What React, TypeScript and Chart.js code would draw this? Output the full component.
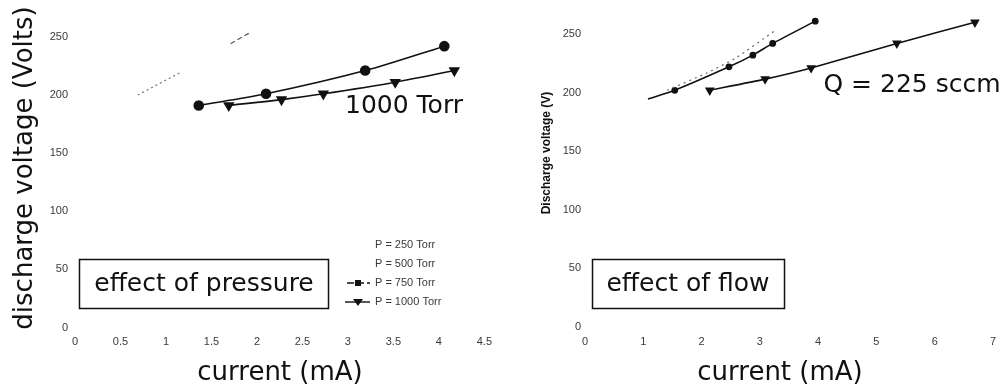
import React, { useEffect, useRef } from "react";
import { Chart, registerables } from "chart.js";

Chart.register(...registerables);

// ---------- Left panel: effect of pressure ----------
const pressureTicksX = [0, 0.5, 1, 1.5, 2, 2.5, 3, 3.5, 4, 4.5];
const voltageTicks = [0, 50, 100, 150, 200, 250];

const p250Current = [0.69, 1.15];
const p250Voltage = [200, 219];
const p500Current = [1.71, 1.91];
const p500Voltage = [244, 253];
const p750Current = [1.36, 2.1, 3.19, 4.06];
const p750Voltage = [191, 201, 221, 242];
const p1000Current = [1.69, 2.27, 2.73, 3.52, 4.17];
const p1000Voltage = [191, 196, 201, 211, 221];

const pressureLegend = ["P = 250 Torr", "P = 500 Torr", "P = 750 Torr", "P = 1000 Torr"];

// ---------- Right panel: effect of flow ----------
const flowTicksX = [0, 1, 2, 3, 4, 5, 6, 7];

const flowDottedCurrent = [1.41, 2.1, 2.6, 3.26];
const flowDottedVoltage = [202, 217, 230, 253];
const flowCircleCurrent = [1.08, 1.54, 2.47, 2.88, 3.22, 3.95];
const flowCircleVoltage = [194.5, 202, 222, 232, 242, 261];
const flowCircleRadius = [0, 2.6, 2.6, 2.6, 2.6, 2.6];
const flowTriCurrent = [2.14, 3.09, 3.88, 5.35, 6.69];
const flowTriVoltage = [202, 211.5, 221, 242, 260];

const zip = (xs: number[], ys: number[]) => xs.map((x, i) => ({ x, y: ys[i] }));

const BIG = '"DejaVu Sans", Verdana, sans-serif';
const SMALL = '"Liberation Sans", Arial, sans-serif';
const TICK_COLOR = "#3a3a3a";
const Y_MAX = 270;

function baseScales(xTicks: number[], xMax: number, yPad: number, yWidth: number, xHeight: number, tickSize: number) {
  return {
    x: {
      type: "linear",
      min: 0,
      max: xMax,
      grid: { display: false, drawTicks: false, tickLength: 0 },
      border: { display: false },
      ticks: {
        padding: 8,
        color: TICK_COLOR,
        font: { family: SMALL, size: tickSize },
        maxRotation: 0,
        autoSkip: false,
        callback: (v: any) => String(v),
      },
      afterBuildTicks: (s: any) => {
        s.ticks = xTicks.map((v) => ({ value: v }));
      },
      afterFit: (s: any) => {
        s.height = xHeight;
      },
    },
    y: {
      type: "linear",
      min: 0,
      max: Y_MAX,
      grid: { display: false, drawTicks: false, tickLength: 0 },
      border: { display: false },
      ticks: { padding: yPad, color: TICK_COLOR, font: { family: SMALL, size: tickSize }, callback: (v: any) => String(v) },
      afterBuildTicks: (s: any) => {
        s.ticks = voltageTicks.map((v) => ({ value: v }));
      },
      afterFit: (s: any) => {
        s.width = yWidth;
      },
    },
  };
}

const leftPlugin = {
  id: "leftAnnot",
  afterDraw(chart: any) {
    const ctx = chart.ctx as CanvasRenderingContext2D;
    ctx.save();
    ctx.fillStyle = "#111";
    ctx.strokeStyle = "#111";
    // y title
    ctx.save();
    ctx.translate(25, 168);
    ctx.rotate(-Math.PI / 2);
    ctx.font = `26px ${BIG}`;
    ctx.textAlign = "center";
    ctx.textBaseline = "middle";
    ctx.fillText("discharge voltage (Volts)", 0, 0);
    ctx.restore();
    // x title
    ctx.font = `26px ${BIG}`;
    ctx.textAlign = "center";
    ctx.textBaseline = "middle";
    ctx.fillText("current (mA)", 280, 373);
    // box
    ctx.lineWidth = 1.5;
    ctx.strokeRect(79.5, 259.5, 249, 49);
    ctx.font = `25px ${BIG}`;
    ctx.fillText("effect of pressure", 204, 284);
    ctx.fillText("1000 Torr", 404, 106);
    // legend
    const rows = [245, 264, 283, 302];
    ctx.font = `11px ${SMALL}`;
    ctx.textAlign = "left";
    ctx.fillStyle = TICK_COLOR;
    pressureLegend.forEach((t, i) => ctx.fillText(t, 375, rows[i]));
    ctx.fillStyle = "#111";
    ctx.lineWidth = 1.4;
    // 750 symbol
    ctx.setLineDash([7, 3]);
    ctx.beginPath();
    ctx.moveTo(347, rows[2]);
    ctx.lineTo(370, rows[2]);
    ctx.stroke();
    ctx.setLineDash([]);
    ctx.fillRect(355, rows[2] - 3, 6, 6);
    // 1000 symbol
    ctx.beginPath();
    ctx.moveTo(345, rows[3]);
    ctx.lineTo(370, rows[3]);
    ctx.stroke();
    ctx.beginPath();
    ctx.moveTo(353, rows[3] - 3);
    ctx.lineTo(363, rows[3] - 3);
    ctx.lineTo(358, rows[3] + 4);
    ctx.closePath();
    ctx.fill();
    ctx.restore();
  },
};

const rightPlugin = {
  id: "rightAnnot",
  afterDraw(chart: any) {
    const ctx = chart.ctx as CanvasRenderingContext2D;
    ctx.save();
    ctx.fillStyle = "#111";
    ctx.strokeStyle = "#111";
    ctx.save();
    ctx.translate(47, 153);
    ctx.rotate(-Math.PI / 2);
    ctx.font = `bold 12px ${SMALL}`;
    ctx.textAlign = "center";
    ctx.textBaseline = "middle";
    ctx.fillText("Discharge voltage (V)", 0, 0);
    ctx.restore();
    ctx.font = `26px ${BIG}`;
    ctx.textAlign = "center";
    ctx.textBaseline = "middle";
    ctx.fillText("current (mA)", 280, 373);
    ctx.lineWidth = 1.5;
    ctx.strokeRect(92.5, 259.5, 192, 49);
    ctx.font = `25px ${BIG}`;
    ctx.fillText("effect of flow", 188, 284);
    ctx.fillText("Q = 225 sccm", 412, 85);
    ctx.restore();
  },
};

function leftConfig(): any {
  return {
    type: "scatter",
    data: {
      datasets: [
        { label: pressureLegend[0], data: zip(p250Current, p250Voltage), showLine: true, borderColor: "#777", borderWidth: 1.2, borderDash: [2, 3], pointRadius: 0 },
        { label: pressureLegend[1], data: zip(p500Current, p500Voltage), showLine: true, borderColor: "#555", borderWidth: 1.2, borderDash: [5, 3], pointRadius: 0 },
        { label: pressureLegend[2], data: zip(p750Current, p750Voltage), showLine: true, borderColor: "#111", backgroundColor: "#111", borderWidth: 1.6, pointStyle: "circle", pointRadius: 4.5, tension: 0.3 },
        { label: pressureLegend[3], data: zip(p1000Current, p1000Voltage), showLine: true, borderColor: "#111", backgroundColor: "#111", borderWidth: 1.6, pointStyle: "triangle", rotation: 180, pointRadius: 5, tension: 0.3 },
      ],
    },
    options: {
      responsive: false,
      animation: false,
      layout: { padding: { top: 11.6, right: 13, bottom: 0, left: 0 } },
      plugins: { legend: { display: false }, tooltip: { enabled: false } },
      scales: baseScales(pressureTicksX, 4.5, 7, 75, 63.5, 11),
    },
    plugins: [leftPlugin],
  };
}

function rightConfig(): any {
  return {
    type: "scatter",
    data: {
      datasets: [
        { label: "dotted", data: zip(flowDottedCurrent, flowDottedVoltage), showLine: true, borderColor: "#666", borderWidth: 1.2, borderDash: [2, 4], pointRadius: 0, tension: 0.2 },
        { label: "circles", data: zip(flowCircleCurrent, flowCircleVoltage), showLine: true, borderColor: "#111", backgroundColor: "#111", borderWidth: 1.6, pointStyle: "circle", pointRadius: flowCircleRadius, tension: 0.2 },
        { label: "Q = 225 sccm", data: zip(flowTriCurrent, flowTriVoltage), showLine: true, borderColor: "#111", backgroundColor: "#111", borderWidth: 1.6, pointStyle: "triangle", rotation: 180, pointRadius: 4, tension: 0.2 },
      ],
    },
    options: {
      responsive: false,
      animation: false,
      layout: { padding: { top: 10.6, right: 12, bottom: 0, left: 0 } },
      plugins: { legend: { display: false }, tooltip: { enabled: false } },
      scales: baseScales(flowTicksX, 7, 4, 85, 64, 11),
    },
    plugins: [rightPlugin],
  };
}

export default function App() {
  const leftRef = useRef<HTMLCanvasElement | null>(null);
  const rightRef = useRef<HTMLCanvasElement | null>(null);

  useEffect(() => {
    const a = new Chart(leftRef.current as HTMLCanvasElement, leftConfig());
    const b = new Chart(rightRef.current as HTMLCanvasElement, rightConfig());
    return () => {
      a.destroy();
      b.destroy();
    };
  }, []);

  return (
    <div style={{ position: "absolute", left: 0, top: 0, width: 1005, height: 391, background: "#fff", overflow: "hidden" }}>
      <canvas ref={leftRef} width={500} height={391} style={{ position: "absolute", left: 0, top: 0, width: 500, height: 391 }} />
      <canvas ref={rightRef} width={505} height={391} style={{ position: "absolute", left: 500, top: 0, width: 505, height: 391 }} />
    </div>
  );
}
